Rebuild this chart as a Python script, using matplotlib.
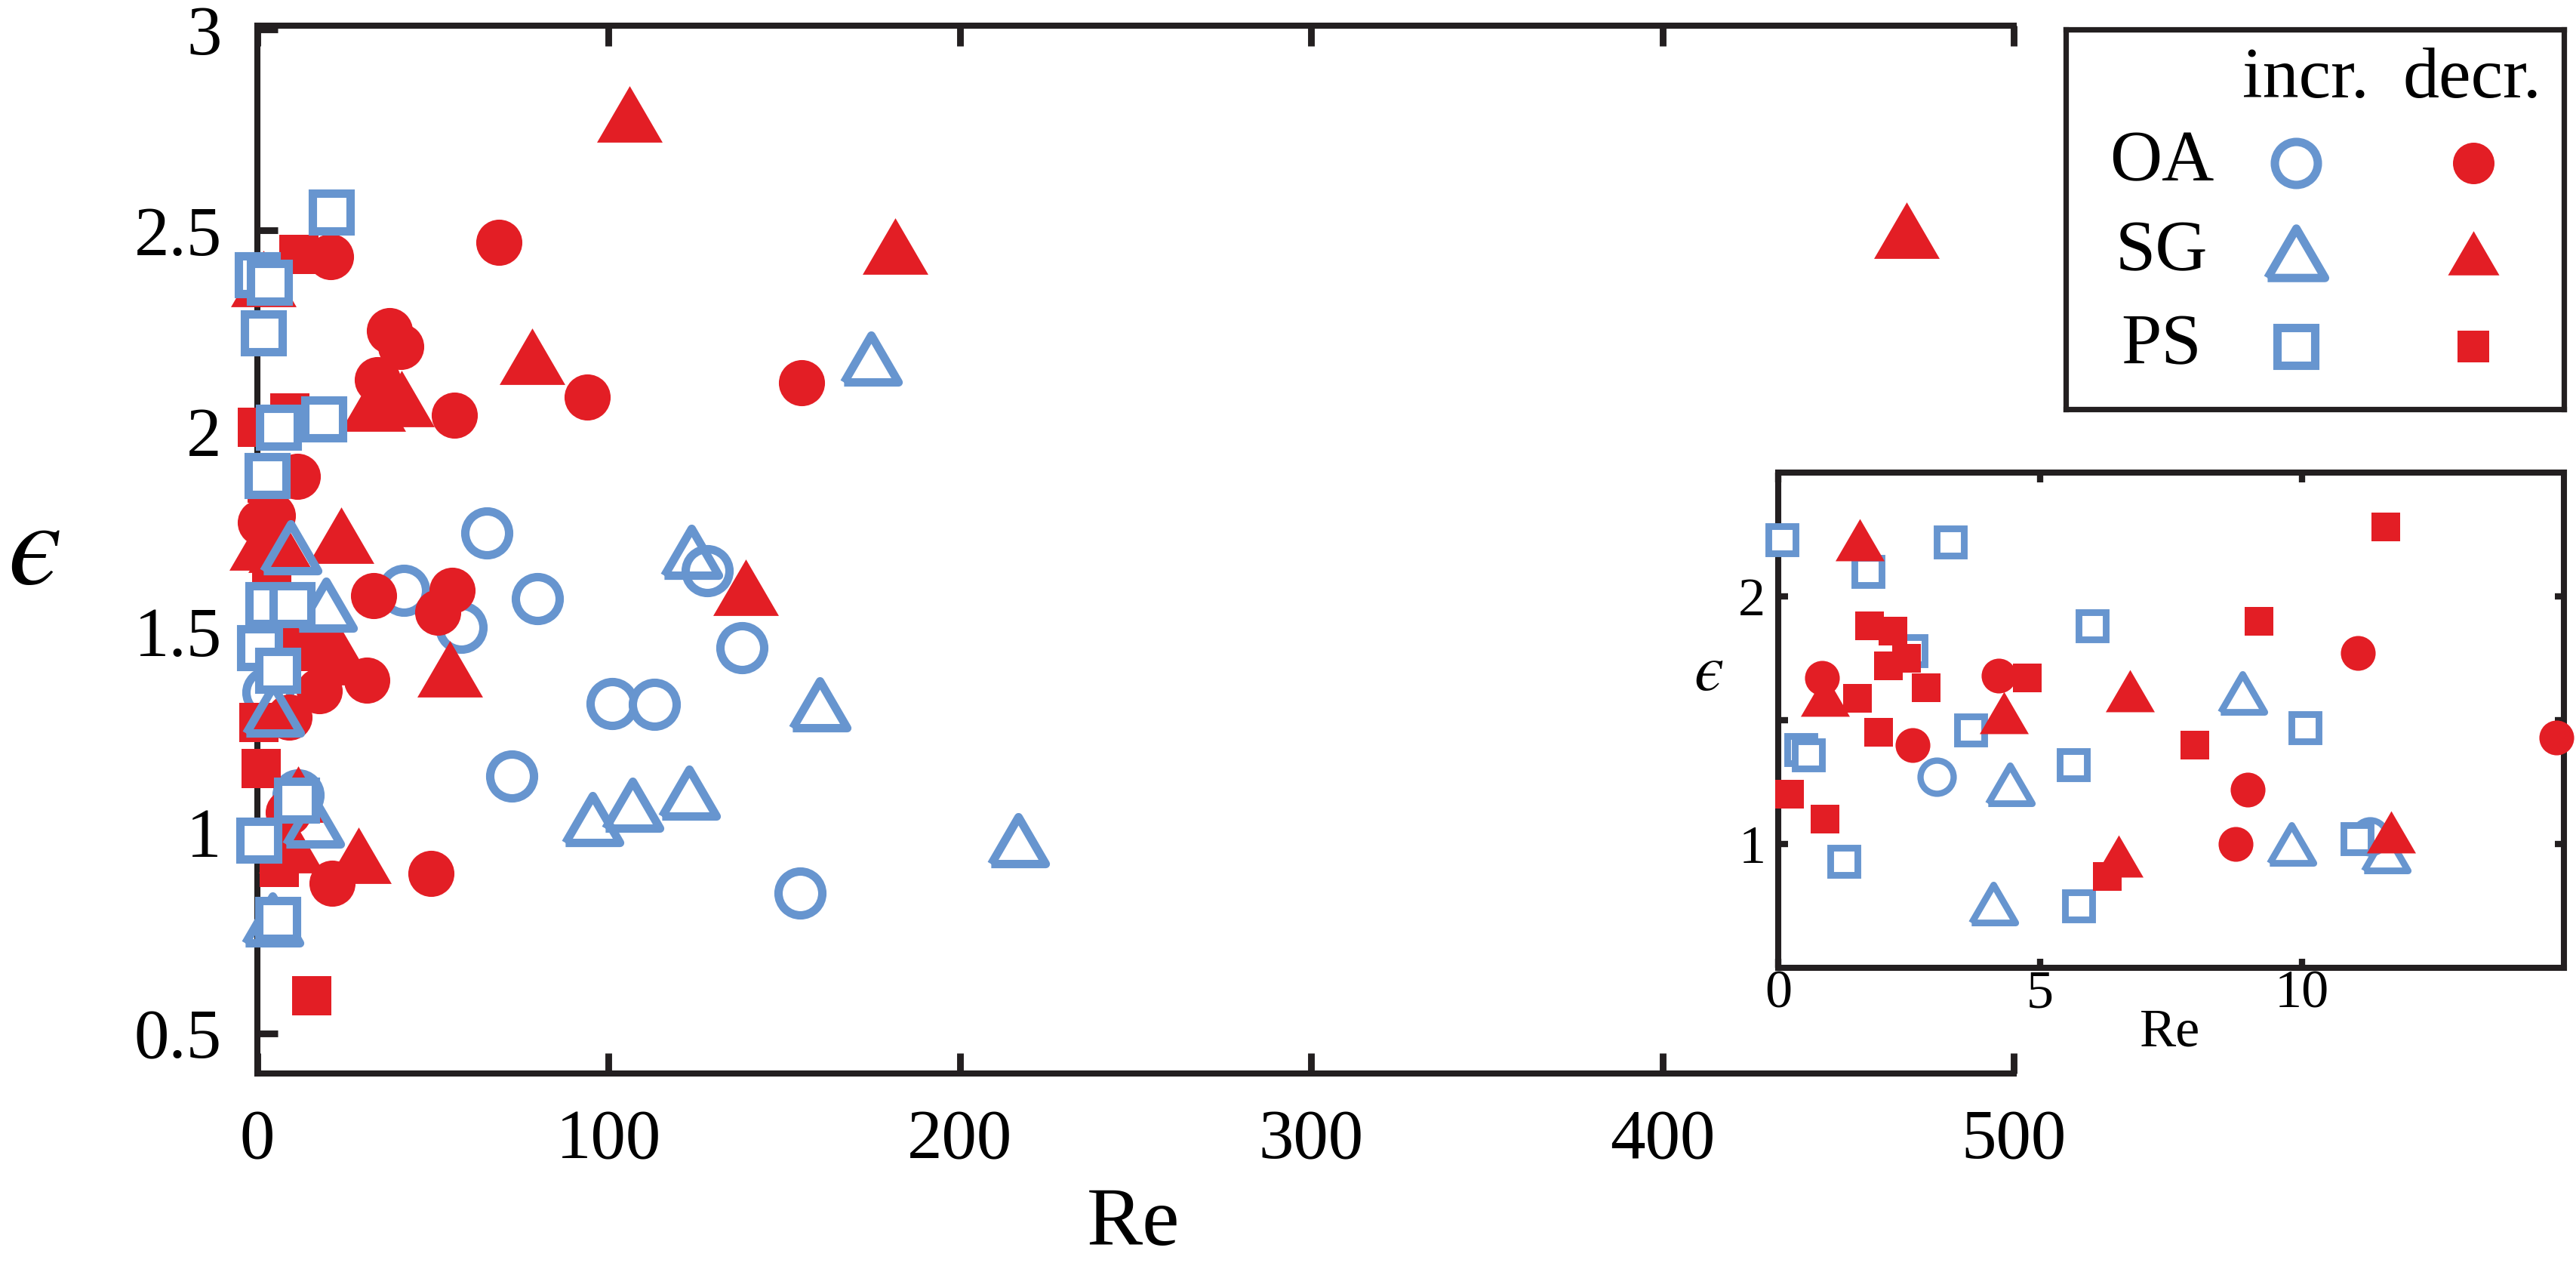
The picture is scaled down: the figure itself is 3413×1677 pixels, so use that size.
import matplotlib
matplotlib.use("Agg")
import matplotlib.pyplot as plt

plt.rcParams['font.family'] = ['Liberation Serif', 'DejaVu Serif']

BLUE = '#6795CF'
RED = '#E31E25'
EPS = '\u03f5'   # lunate epsilon, as in the original axis label

# ---- main panel data (Re, epsilon) ----
oa_inc_re = [41.7, 65.3, 58.0, 79.7, 72.5, 101, 113, 128, 138, 154.5, 3.0, 11.6]
oa_inc_eps = [1.603, 1.746, 1.511, 1.583, 1.141, 1.322, 1.32, 1.652, 1.46, 0.85, 1.35, 1.094]

sg_inc_re = [123.5, 174.7, 160, 95.4, 106.9, 123, 216.7, 9.4, 19.5, 4.5, 4.2, 15.9]
sg_inc_eps = [1.70, 2.18, 1.32, 1.034, 1.07, 1.10, 0.98, 1.71, 1.567, 1.306, 0.784, 1.03]

ps_inc_re = [21.0, 0.1, 3.4, 1.8, 19.0, 6.0, 2.7, 3.0, 9.8, 0.6, 5.8, 11.2, 0.5, 5.8]
ps_inc_eps = [2.546, 2.39, 2.37, 2.245, 2.03, 2.01, 1.89, 1.567, 1.567, 1.46, 1.404, 1.08, 0.98, 0.784]

oa_dec_re = [68.7, 20.8, 37.7, 40.8, 34.2, 56.0, 94.0, 155, 11.3, 0.9, 4.3, 33.1, 55.4,
             51.4, 31.1, 17.6, 9.1, 8.8, 21.3, 49.4]
oa_dec_eps = [2.47, 2.435, 2.25, 2.21, 2.127, 2.04, 2.085, 2.12, 1.887, 1.773, 1.79, 1.59, 1.603,
              1.549, 1.38, 1.353, 1.288, 1.05, 0.873, 0.899]

sg_dec_re = [106, 181.6, 469.5, 78.2, 32.9, 41.1, 1.7, 23.8, 1.2, 6.6, 139, 54.9, 23.8, 11.6, 28.9, 9.7]
sg_dec_eps = [2.79, 2.46, 2.50, 2.186, 2.07, 2.08, 2.38, 1.741, 1.724, 1.718, 1.61, 1.407, 1.438,
              1.096, 0.944, 0.97]

ps_dec_re = [11.8, 9.2, 0.0, 2.7, 2.6, 3.5, 4.0, 8.0, 18.0, 0.4, 1.0, 6.2, 15.5]
ps_dec_eps = [2.44, 2.045, 2.01, 1.87, 1.883, 1.75, 1.63, 1.482, 1.451, 1.274, 1.16, 0.913, 0.593]

# ---- inset data (Re < 15) ----
in_oa_inc_re = [3.03, 11.3]
in_oa_inc_eps = [1.27, 1.03]
in_sg_inc_re = [8.86, 4.43, 4.1, 9.8, 11.6]
in_sg_inc_eps = [1.61, 1.24, 0.76, 1.0, 0.97]
in_ps_inc_re = [0.07, 3.29, 1.72, 2.54, 6.0, 10.06, 3.68, 0.43, 0.58, 5.64, 1.25, 5.74, 11.05]
in_ps_inc_eps = [2.23, 2.22, 2.10, 1.78, 1.88, 1.47, 1.46, 1.38, 1.36, 1.32, 0.93, 0.75, 1.02]
in_oa_dec_re = [0.84, 4.21, 2.57, 11.07, 8.96, 8.73, 14.86]
in_oa_dec_eps = [1.67, 1.68, 1.40, 1.77, 1.22, 1.0, 1.43]
in_sg_dec_re = [1.55, 0.89, 4.31, 6.72, 6.5, 11.7]
in_sg_dec_eps = [2.23, 1.60, 1.53, 1.62, 0.95, 1.05]
in_ps_dec_re = [11.6, 9.18, 1.74, 2.19, 2.11, 2.45, 4.75, 2.83, 1.52, 1.91, 0.22, 0.89, 7.96, 6.28]
in_ps_dec_eps = [2.28, 1.90, 1.88, 1.86, 1.72, 1.75, 1.67, 1.63, 1.59, 1.45, 1.20, 1.10, 1.40, 0.87]

groups = ['OA', 'SG', 'PS']
columns = ['incr.', 'decr.']

# triangle a bit flatter than matplotlib's '^'
tri = [(-0.5, -0.43), (0.5, -0.43), (0.0, 0.43), (-0.5, -0.43)]

fig = plt.figure(figsize=(17.065, 8.385), dpi=200)

# ================= main axes =================
ax = fig.add_axes([0.0999, 0.1521, 0.6818, 0.8277])
ax.set_xlim(0, 500)
ax.set_ylim(0.4, 3.01)

kw = dict(linestyle='none', clip_on=False)
ax.plot(oa_inc_re, oa_inc_eps, marker='o', ms=20.9, mfc='white', mec=BLUE, mew=4.0, zorder=3, **kw)
ax.plot(oa_dec_re, oa_dec_eps, marker='o', ms=22, mfc=RED, mec=RED, mew=0, zorder=4, **kw)
ax.plot(sg_dec_re, sg_dec_eps, marker=tri, ms=31.3, mfc=RED, mec=RED, mew=0, zorder=5, **kw)
ax.plot(ps_dec_re, ps_dec_eps, marker='s', ms=18.4, mfc=RED, mec=RED, mew=0, zorder=6, **kw)
ax.plot(sg_inc_re, sg_inc_eps, marker=tri, ms=26, mfc='none', mec=BLUE, mew=4.0, zorder=7, **kw)
ax.plot(ps_inc_re, ps_inc_eps, marker='s', ms=18, mfc='white', mec=BLUE, mew=4.0, zorder=8, **kw)

ax.spines['right'].set_visible(False)
for s in ['left', 'top', 'bottom']:
    ax.spines[s].set_linewidth(2.9)
    ax.spines[s].set_color('#231F20')
ax.set_xticks([0, 100, 200, 300, 400, 500])
ax.set_yticks([0.5, 1, 1.5, 2, 2.5, 3])
ax.set_yticklabels(['0.5', '1', '1.5', '2', '2.5', '3'])
ax.tick_params(axis='x', direction='in', top=True, bottom=True, length=9.7, width=3.2,
               labelsize=33.5, pad=17, color='#231F20')
ax.tick_params(axis='y', direction='in', left=True, right=False, length=9.7, width=3.2,
               labelsize=33.5, pad=17, color='#231F20')

fig.text(0.0135, 0.5617, EPS, fontsize=58, ha='center', va='center',
         family=['STIXGeneral', 'DejaVu Serif'], style='italic')
fig.text(0.440, 0.0328, 'Re', fontsize=40, ha='center', va='center')

# ================= inset =================
ai = fig.add_axes([0.6903, 0.2355, 0.3050, 0.3912])
ai.set_xlim(0, 15)
ai.set_ylim(0.5, 2.5)
kwi = dict(linestyle='none', clip_on=False)
ai.plot(in_oa_inc_re, in_oa_inc_eps, marker='o', ms=15.8, mfc='white', mec=BLUE, mew=3.0, zorder=3, **kwi)
ai.plot(in_sg_inc_re, in_sg_inc_eps, marker=tri, ms=21, mfc='none', mec=BLUE, mew=3.2, zorder=3, **kwi)
ai.plot(in_ps_inc_re, in_ps_inc_eps, marker='s', ms=13.3, mfc='white', mec=BLUE, mew=3.2, zorder=3, **kwi)
ai.plot(in_oa_dec_re, in_oa_dec_eps, marker='o', ms=16.6, mfc=RED, mec=RED, mew=0, zorder=4, **kwi)
ai.plot(in_sg_dec_re, in_sg_dec_eps, marker=tri, ms=23.4, mfc=RED, mec=RED, mew=0, zorder=4, **kwi)
ai.plot(in_ps_dec_re, in_ps_dec_eps, marker='s', ms=14, mfc=RED, mec=RED, mew=0, zorder=4, **kwi)

for s in ai.spines.values():
    s.set_linewidth(2.9)
    s.set_color('#231F20')
ai.set_xticks([0, 5, 10])
ai.set_yticks([1, 1.5, 2])
ai.set_yticklabels(['1', '', '2'])
ai.tick_params(axis='x', direction='in', top=True, bottom=True, length=4.5, width=3.0,
               labelsize=26, pad=1, color='#231F20')
ai.tick_params(axis='y', direction='in', left=True, right=True, length=4.5, width=3.0,
               labelsize=26, pad=6, color='#231F20')
ai.text(0.4985, -0.131, 'Re', fontsize=26, ha='center', va='center', transform=ai.transAxes)
ai.text(-0.088, 0.593, EPS, fontsize=32, ha='center', va='center', transform=ai.transAxes,
        family=['STIXGeneral', 'DejaVu Serif'], style='italic')

# ================= legend box =================
al = fig.add_axes([0.8019, 0.6768, 0.1934, 0.2999])
al.set_xlim(0, 660)
al.set_ylim(503, 0)
al.set_xticks([])
al.set_yticks([])
for s in al.spines.values():
    s.set_linewidth(2.6)
    s.set_color('#231F20')

col_x = [305, 540]
row_y = [177, 296, 420]
for cx, name in zip([318, 538], columns):
    al.text(cx, 67, name, fontsize=34.5, ha='center', va='center')
for ry, g in zip(row_y, groups):
    al.text(127, ry, g, fontsize=34.5, ha='center', va='center')

al.plot(col_x[0], row_y[0], marker='o', ms=20.5, mfc='white', mec=BLUE, mew=4.0)
al.plot(col_x[1], row_y[0], marker='o', ms=19.8, mfc=RED, mec=RED, mew=0)
al.plot(col_x[0], row_y[1], marker=tri, ms=27.4, mfc='none', mec=BLUE, mew=4.0)
al.plot(col_x[1], row_y[1], marker=tri, ms=24.5, mfc=RED, mec=RED, mew=0)
al.plot(col_x[0], row_y[2], marker='s', ms=18, mfc='white', mec=BLUE, mew=4.0)
al.plot(col_x[1], row_y[2], marker='s', ms=15.1, mfc=RED, mec=RED, mew=0)

fig.savefig('out.png', dpi=200)
